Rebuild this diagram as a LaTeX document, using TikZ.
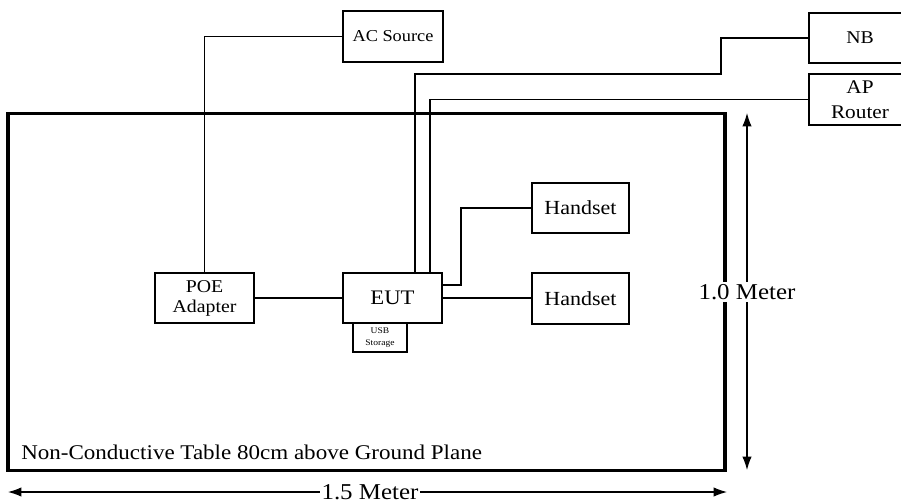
\documentclass[tikz,border=0pt]{standalone}
\usepackage{fontspec}
\setmainfont{Liberation Serif}[FakeStretch=1.1]
\usetikzlibrary{arrows.meta}
\newcommand{\fs}[2]{\fontsize{#1}{#2}\selectfont}
\tikzset{
  box/.style={draw, line width=1.2pt, inner sep=0pt, align=center},
  wire/.style={line width=0.9pt},
  dim/.style={line width=0.8pt, {Latex[length=10pt,width=7pt]}-{Latex[length=10pt,width=7pt]}},
  dimlabel/.style={fill=white, inner xsep=1pt, inner ysep=2pt, font=\fs{17pt}{20pt}},
}
\begin{document}
\begin{tikzpicture}[x=0.75pt,y=-0.75pt]
\useasboundingbox (0,0) rectangle (901,504);
% table
\node[draw, line width=2.6pt, minimum width=537.75pt, minimum height=267.75pt, inner sep=0pt] (table) at (366.5,292) {};
\node[anchor=west, inner sep=0pt, font=\fs{15.7pt}{18pt}] (tlabel) at (21,452) {Non-Conductive Table 80cm above Ground Plane};
% boxes
\node[box, minimum width=75pt, minimum height=38.25pt, font=\fs{12.5pt}{15pt}] (ac) at (393,36.5) {AC Source};
\node[box, minimum width=76.5pt, minimum height=37.5pt, font=\fs{13.5pt}{16pt}] (nb) at (860,38) {NB};
\node[box, minimum width=76.5pt, minimum height=38.25pt, font=\fs{14.5pt}{19pt}] (ap) at (860,99.5) {AP\\Router};
\node[box, minimum width=74.25pt, minimum height=37.5pt, font=\fs{13.5pt}{15pt}] (poe) at (204.5,298) {POE\\Adapter};
\node[box, minimum width=74.25pt, minimum height=37.5pt, font=\fs{15.5pt}{18pt}] (eut) at (392.5,298) {EUT};
\node[box, minimum width=40.5pt, minimum height=21.75pt, line width=1pt, font=\fs{6.5pt}{9.5pt}] (usb) at (380,337.5) {USB\\Storage};
\node[box, minimum width=72.75pt, minimum height=37.5pt, font=\fs{15pt}{18pt}] (h1) at (580.5,208) {Handset};
\node[box, minimum width=72.75pt, minimum height=38.25pt, font=\fs{15pt}{18pt}] (h2) at (580.5,298.5) {Handset};
% wires
\draw[wire] (ac.west) -| (poe.north);
\draw[wire] (nb.west) -- (721,38) -- (721,74) -- (415,74) -- (415,273);
\draw[wire] (ap.west) -- (430,99.5) -- (430,273);
\draw[wire] (poe.east) -- (eut.west);
\draw[wire] (442,285) -- (461,285) -- (461,208) -- (h1.west);
\draw[wire] (442,298) -- (h2.west |- 298,298);
% dimensions
\coordinate (vt) at (747,113);
\coordinate (vb) at (747,470);
\draw[dim] (vt) -- (vb);
\node[dimlabel] (vlab) at (747,292) {1.0 Meter};
\coordinate (hl) at (8,492);
\coordinate (hr) at (727,492);
\draw[dim] (hl) -- (hr);
\node[dimlabel] (hlab) at (370,492) {1.5 Meter};
\end{tikzpicture}
\end{document}
